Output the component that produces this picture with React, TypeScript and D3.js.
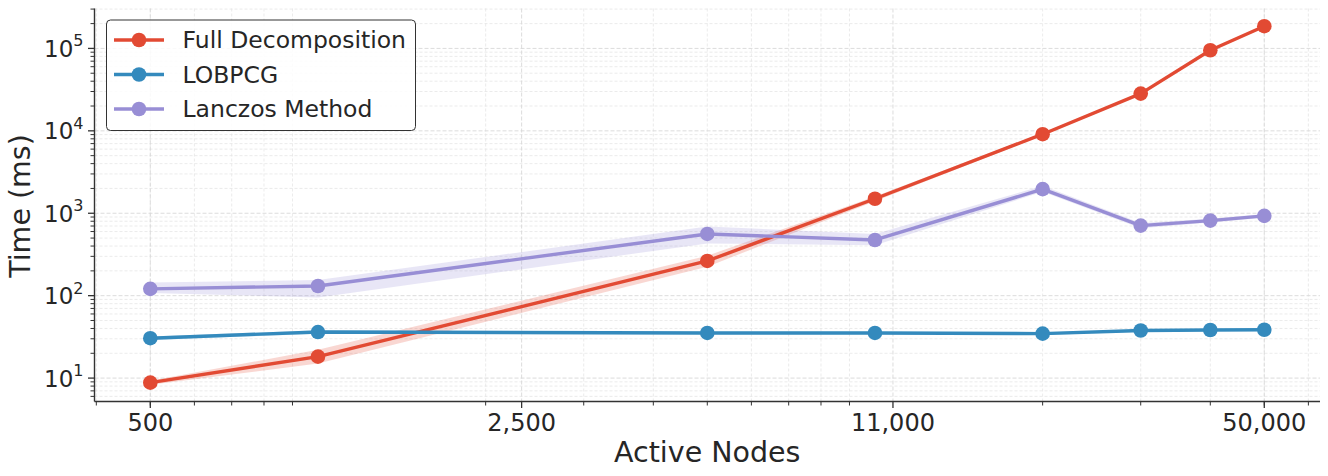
import React from "react";
import * as d3 from "d3";

const nodes = [500, 1000, 5000, 10000, 20000, 30000, 40000, 50000];

const fullMean = [8.8, 18.2, 264, 1500, 9100, 28300, 95000, 186000];
const fullLow = [8.3, 15, 225, 1400, 8800, 27400, 92000, 180000];
const fullHigh = [9.3, 22, 305, 1600, 9400, 29200, 98000, 192000];

const lobMean = [30.5, 36.2, 35.3, 35.3, 34.6, 37.8, 38.3, 38.6];
const lobLow = [29, 34.5, 34, 34, 33.4, 36.6, 37.2, 37.5];
const lobHigh = [32, 38, 36.6, 36.6, 35.8, 39, 39.4, 39.7];

const lanMean = [121, 131, 561, 474, 1960, 708, 815, 930];
const lanLow = [108, 95, 430, 410, 1820, 660, 775, 885];
const lanHigh = [144, 155, 690, 560, 2150, 760, 860, 980];

const xTickValues = [500, 500 * Math.pow(100, 1 / 3), 500 * Math.pow(100, 2 / 3), 50000];
const xTickLabels = ["500", "2,500", "11,000", "50,000"];
const yTickExps = [1, 2, 3, 4, 5];

const seriesNames = ["Full Decomposition", "LOBPCG", "Lanczos Method"];
const seriesColors = ["#E24A33", "#348ABD", "#988ED5"];

const W = 1328;
const H = 476;
const left = 94.5;
const right = 1320;
const top = 8.5;
const bottom = 401.5;

export default function App() {
  const x = d3.scaleLog().domain([397, 62950]).range([left, right]);
  const y = d3.scaleLog().domain([5.2, 305000]).range([bottom, top]);

  const series = [
    { mean: fullMean, low: fullLow, high: fullHigh },
    { mean: lobMean, low: lobLow, high: lobHigh },
    { mean: lanMean, low: lanLow, high: lanHigh },
  ];

  const xMinor: number[] = [];
  for (let e = 2; e <= 4; e++) {
    for (let m = 2; m <= 9; m++) {
      const v = m * Math.pow(10, e);
      if (v >= 397 && v <= 62950) xMinor.push(v);
    }
  }
  const yMinor: number[] = [];
  for (let e = 0; e <= 5; e++) {
    for (let m = 2; m <= 9; m++) {
      const v = m * Math.pow(10, e);
      if (v >= 5.2 && v <= 305000) yMinor.push(v);
    }
  }
  const yMajor = yTickExps.map((e) => Math.pow(10, e));

  const line = d3
    .line<number>()
    .x((_, i) => x(nodes[i]))
    .y((d) => y(d));

  const area = (low: number[], high: number[]) =>
    d3
      .area<number>()
      .x((_, i) => x(nodes[i]))
      .y0((_, i) => y(low[i]))
      .y1((_, i) => y(high[i]))(nodes);

  const font = "DejaVu Sans, sans-serif";
  const textColor = "#262626";

  return (
    <svg
      width={W}
      height={H}
      style={{ position: "absolute", left: 0, top: 0, background: "#fff" }}
      fontFamily={font}
    >
      <g>
        {yMinor.map((v, i) => (
          <line key={"ym" + i} x1={left} x2={right} y1={y(v)} y2={y(v)} stroke="#e3e3e3" strokeWidth={0.7} strokeDasharray="3,2" />
        ))}
        {xMinor.map((v, i) => (
          <line key={"xm" + i} x1={x(v)} x2={x(v)} y1={top} y2={bottom} stroke="#e3e3e3" strokeWidth={0.7} strokeDasharray="3,2" />
        ))}
        {yMajor.map((v, i) => (
          <line key={"yM" + i} x1={left} x2={right} y1={y(v)} y2={y(v)} stroke="#d8d8d8" strokeWidth={0.9} strokeDasharray="4,2" />
        ))}
        {xTickValues.map((v, i) => (
          <line key={"xM" + i} x1={x(v)} x2={x(v)} y1={top} y2={bottom} stroke="#d8d8d8" strokeWidth={0.9} strokeDasharray="4,2" />
        ))}
      </g>

      {series.map((s, i) => (
        <path key={"b" + i} d={area(s.low, s.high) || ""} fill={seriesColors[i]} fillOpacity={0.22} stroke="none" />
      ))}
      {series.map((s, i) => (
        <g key={"s" + i}>
          <path d={line(s.mean) || ""} fill="none" stroke={seriesColors[i]} strokeWidth={3.4} strokeLinejoin="round" />
          {s.mean.map((v, j) => (
            <circle key={j} cx={x(nodes[j])} cy={y(v)} r={7.3} fill={seriesColors[i]} />
          ))}
        </g>
      ))}

      <line x1={left} x2={left} y1={top} y2={bottom} stroke="#333" strokeWidth={1.4} />
      <line x1={left} x2={right} y1={bottom} y2={bottom} stroke="#333" strokeWidth={1.4} />

      {xMinor.map((v, i) => (
        <line key={"xt" + i} x1={x(v)} x2={x(v)} y1={bottom} y2={bottom + 4} stroke="#333" strokeWidth={1} />
      ))}
      {xTickValues.map((v, i) => (
        <g key={"xT" + i}>
          <line x1={x(v)} x2={x(v)} y1={bottom} y2={bottom + 6.5} stroke="#333" strokeWidth={1.3} />
          <text x={x(v)} y={431} textAnchor="middle" fontSize={24} fill={textColor}>
            {xTickLabels[i]}
          </text>
        </g>
      ))}

      {yMinor.map((v, i) => (
        <line key={"yt" + i} x1={left - 4} x2={left} y1={y(v)} y2={y(v)} stroke="#333" strokeWidth={1} />
      ))}
      {yMajor.map((v, i) => (
        <g key={"yT" + i}>
          <line x1={left - 6.5} x2={left} y1={y(v)} y2={y(v)} stroke="#333" strokeWidth={1.3} />
          <text x={left - 11} y={y(v) + 8.5} textAnchor="end" fontSize={23} fill={textColor}>
            10
            <tspan dy={-10.5} fontSize={16}>
              {yTickExps[i]}
            </tspan>
          </text>
        </g>
      ))}

      <text x={(left + right) / 2} y={461.5} textAnchor="middle" fontSize={28.5} fill={textColor}>
        Active Nodes
      </text>
      <text transform={`translate(29.5, 206) rotate(-90)`} textAnchor="middle" fontSize={28.5} fill={textColor}>
        Time (ms)
      </text>

      <g>
        <rect x={106.5} y={20} width={309} height={110.5} rx={4} fill="#fff" fillOpacity={0.85} stroke="#333" strokeWidth={1} />
        {seriesNames.map((n, i) => {
          const cy = 40 + i * 34.5;
          return (
            <g key={"l" + i}>
              <line x1={114} x2={164} y1={cy} y2={cy} stroke={seriesColors[i]} strokeWidth={3.4} />
              <circle cx={139} cy={cy} r={7.3} fill={seriesColors[i]} />
              <text x={182.5} y={cy + 8.3} fontSize={23.5} fill={textColor}>
                {n}
              </text>
            </g>
          );
        })}
      </g>
    </svg>
  );
}
